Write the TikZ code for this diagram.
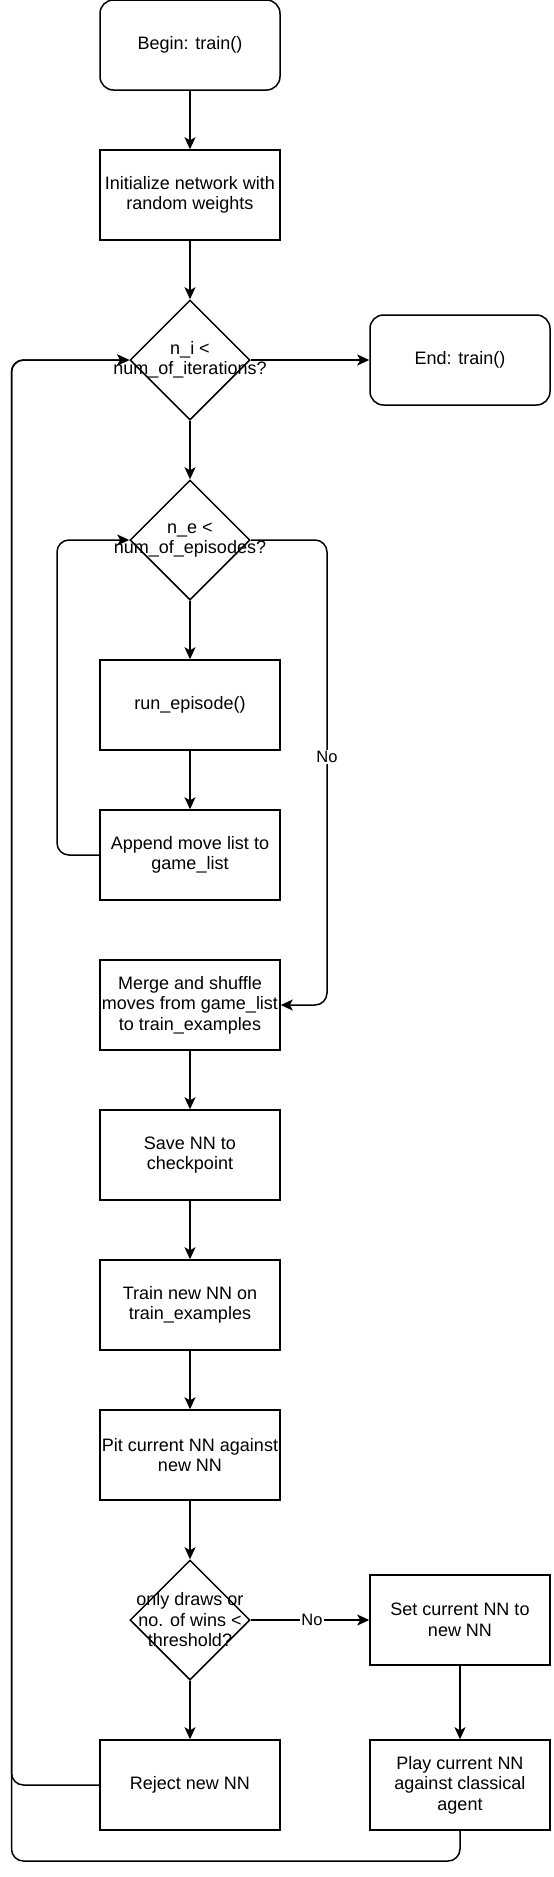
\documentclass[tikz,border=0pt]{standalone}
\usepackage{fontspec}
\setmainfont{Liberation Sans}
\usetikzlibrary{shapes.geometric,arrows.meta}
\begin{document}
\begin{tikzpicture}[x=1pt,y=-1pt,
  every node/.style={font=\fontsize{18}{20.5}\selectfont},
  procbox/.style={draw,line width=1.5pt,minimum width=180pt,minimum height=90pt,inner sep=2pt,align=center},
  termbox/.style={procbox,rounded corners=13.5pt},
  dia/.style={draw,line width=1.5pt,diamond,minimum width=120pt,minimum height=120pt,inner sep=0pt},
  diatext/.style={align=center,inner sep=0pt},
  arr/.style={line width=1.5pt,-{Stealth[length=12pt,width=11pt,inset=3pt]},rounded corners=12pt},
  elabel/.style={fill=white,inner sep=1pt,font=\fontsize{16.5}{18}\selectfont}]
\useasboundingbox (0,0) rectangle (554,1877);
\coordinate (lo) at (11.5,0);
\coordinate (li) at (57,0);
\coordinate (ro) at (327,0);
\coordinate (bot) at (0,1861);

\node[termbox] (begin) at (190,45) {Begin: train()};
\node[procbox] (init) at (190,195) {Initialize network with\\random weights};
\node[dia] (d1) at (190,360) {};
\node[diatext] (d1t) at (190,360) {n\_i <\\num\_of\_iterations?};
\node[termbox] (end) at (460,360) {End: train()};
\node[dia] (d2) at (190,540) {};
\node[diatext] (d2t) at (190,540) {n\_e <\\num\_of\_episodes?};
\node[procbox] (run) at (190,705) {run\_episode()};
\node[procbox] (app) at (190,855) {Append move list to\\game\_list};
\node[procbox] (mer) at (190,1005) {Merge and shuffle\\moves from game\_list\\to train\_examples};
\node[procbox] (save) at (190,1155) {Save NN to\\checkpoint};
\node[procbox] (train) at (190,1305) {Train new NN on\\train\_examples};
\node[procbox] (pit) at (190,1455) {Pit current NN against\\new NN};
\node[dia] (d3) at (190,1620) {};
\node[diatext] (d3t) at (190,1620) {only draws or\\no. of wins <\\threshold?};
\node[procbox] (set) at (460,1620) {Set current NN to\\new NN};
\node[procbox] (rej) at (190,1785) {Reject new NN};
\node[procbox] (play) at (460,1785) {Play current NN\\against classical\\agent};

\draw[arr] (begin) -- (init);
\draw[arr] (init) -- (d1.north);
\draw[arr] (d1.east) -- (end.west);
\draw[arr] (d1.south) -- (d2.north);
\draw[arr] (d2.south) -- (run);
\draw[arr] (run) -- (app);
\draw[arr] (app.west) -- (app.west -| li) -- (li |- d2.west) -- (d2.west);
\draw[arr] (d2.east) -- (d2.east -| ro) -- (ro |- mer.east) -- (mer.east);
\node[elabel] (no1) at (327,757) {No};
\draw[arr] (mer) -- (save);
\draw[arr] (save) -- (train);
\draw[arr] (train) -- (pit);
\draw[arr] (pit) -- (d3.north);
\draw[arr] (d3.east) -- (set.west);
\node[elabel] (no2) at (312,1620) {No};
\draw[arr] (d3.south) -- (rej);
\draw[arr] (set) -- (play);
\draw[arr] (rej.west) -- (rej.west -| lo) -- (lo |- d1.west) -- (d1.west);
\draw[arr] (play.south) -- (play.south |- bot) -- (lo |- bot) -- (lo |- d1.west) -- (d1.west);
\end{tikzpicture}
\end{document}
